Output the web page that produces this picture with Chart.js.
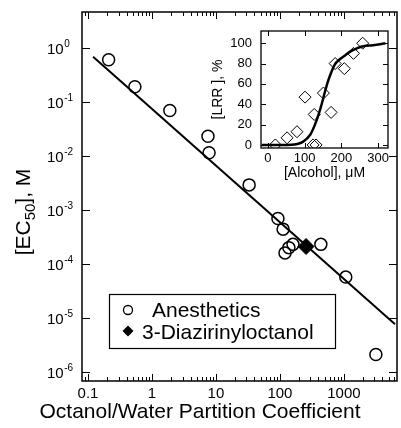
<!DOCTYPE html>
<html>
<head>
<meta charset="utf-8">
<script src="https://cdn.jsdelivr.net/npm/chart.js@4.4.0/dist/chart.umd.min.js"></script>
<style>
    html, body { margin: 0; padding: 0; background: #fff; overflow: hidden; }
    #wrap { position: relative; width: 401px; height: 428px; overflow: hidden; }
    #mainChart { position: absolute; left: 0; top: 0; }
    #insetChart { position: absolute; left: 200px; top: 20px; }
</style>
</head>
<body>
<div id="wrap">
    <!-- a few px wider than the page: Chart.js keeps room for point overflow on the right -->
    <canvas id="mainChart" width="406" height="428"></canvas>
    <canvas id="insetChart" width="200" height="170"></canvas>
</div>
<script>
// Main plot: anesthetics (open circles)
const partitionCoeff = [0.21, 0.54, 1.9, 7.5, 7.8, 33, 93, 112, 120, 138, 160, 436, 1070, 3160];
const ec50 = [0.6, 0.19, 0.069, 0.023, 0.0114, 0.0029, 6.9e-4, 4.4e-4, 1.6e-4, 2.0e-4, 2.3e-4, 2.3e-4, 5.7e-5, 2.1e-6];
// 3-Diazirinyloctanol (filled diamond)
const diazPartition = [256];
const diazEc50 = [2.1e-4];
// regression line end points
const fitPartition = [0.12, 6300];
const fitEc50 = [0.68, 7.6e-6];
// axis ticks
const xDecades = [0.1, 1, 10, 100, 1000];
const xDecadeLabels = ['0.1', '1', '10', '100', '1000'];
const yExponents = [0, -1, -2, -3, -4, -5, -6];

// Inset: LRR vs alcohol concentration
const alcohol = [20, 52, 79, 101, 126, 123, 131, 151, 172, 183, 208, 233, 258];
const lrr = [0, 7, 13, 47, 30, 0, 0, 51, 32, 80, 75, 90, 100];
const curveAlcohol = [-17, 0, 40, 80, 95, 115, 128, 138, 147, 155, 163, 172, 182, 195, 210, 225, 242, 260, 286, 305, 320];
const curveLrr = [0, 0, 0, 1, 3, 10, 20, 30, 41, 52, 62, 71, 79, 84, 88, 92, 95, 97, 98, 99, 100];
const insetXTicks = [0, 100, 200, 300];
const insetYTicks = [0, 20, 40, 60, 80, 100];

const FONT = '"Liberation Sans", Arial, Helvetica, sans-serif';

function toPoints(xs, ys) {
    return xs.map((v, i) => ({ x: v, y: ys[i] }));
}

// minor tick positions for the log x axis
function logMinorTicks(min, max) {
    const out = [];
    [0.01, 0.1, 1, 10, 100, 1000].forEach(d => {
        for (let m = 2; m <= 9; m++) {
            const v = m * d;
            if (v > min && v < max) out.push(v);
        }
    });
    return out;
}

const mainDecor = {
    id: 'mainDecor',
    afterDraw(chart) {
        const { ctx, chartArea: a, scales: { x, y } } = chart;
        ctx.save();
        ctx.strokeStyle = '#000';
        ctx.fillStyle = '#000';

        // frame
        ctx.lineWidth = 1.5;
        ctx.strokeRect(a.left, a.top, a.right - a.left, a.bottom - a.top);

        // inward ticks
        ctx.lineWidth = 1;
        ctx.beginPath();
        xDecades.forEach(v => {
            const px = Math.round(x.getPixelForValue(v)) + 0.5;
            ctx.moveTo(px, a.bottom); ctx.lineTo(px, a.bottom - 7);
            ctx.moveTo(px, a.top); ctx.lineTo(px, a.top + 7);
        });
        logMinorTicks(x.min, x.max).forEach(v => {
            const px = Math.round(x.getPixelForValue(v)) + 0.5;
            ctx.moveTo(px, a.bottom); ctx.lineTo(px, a.bottom - 4);
            ctx.moveTo(px, a.top); ctx.lineTo(px, a.top + 4);
        });
        yExponents.forEach(e => {
            const py = Math.round(y.getPixelForValue(Math.pow(10, e))) + 0.5;
            ctx.moveTo(a.left, py); ctx.lineTo(a.left + 8, py);
            ctx.moveTo(a.right, py); ctx.lineTo(a.right - 8, py);
        });
        ctx.stroke();

        // y tick labels 10^n
        ctx.textAlign = 'left';
        ctx.textBaseline = 'middle';
        yExponents.forEach(e => {
            const py = y.getPixelForValue(Math.pow(10, e));
            ctx.font = '15px ' + FONT;
            ctx.fillText('10', 47, py + 2);
            const w = ctx.measureText('10').width;
            ctx.font = '10px ' + FONT;
            ctx.fillText(e === 0 ? '0' : '-' + (-e), 47 + w + 0.5, py - 4);
        });

        // x title
        ctx.font = '21px ' + FONT;
        ctx.textAlign = 'center';
        ctx.textBaseline = 'alphabetic';
        ctx.fillText('Octanol/Water Partition Coefficient', 200, 418);

        // y title with subscript
        ctx.save();
        ctx.translate(30, 212);
        ctx.rotate(-Math.PI / 2);
        const parts = [['[EC', 21, 0], ['50', 15, 5], ['], M', 21, 0]];
        let total = 0;
        parts.forEach(p => { ctx.font = p[1] + 'px ' + FONT; total += ctx.measureText(p[0]).width; });
        let cx = -total / 2;
        ctx.textAlign = 'left';
        parts.forEach(p => {
            ctx.font = p[1] + 'px ' + FONT;
            ctx.fillText(p[0], cx, p[2]);
            cx += ctx.measureText(p[0]).width;
        });
        ctx.restore();

        // legend box
        ctx.lineWidth = 1.2;
        ctx.strokeRect(109.5, 294.5, 226, 54);
        ctx.lineWidth = 1.3;
        ctx.beginPath();
        ctx.arc(128, 310, 4.5, 0, Math.PI * 2);
        ctx.stroke();
        ctx.beginPath();
        ctx.moveTo(128, 325.5); ctx.lineTo(133.5, 331); ctx.lineTo(128, 336.5); ctx.lineTo(122.5, 331);
        ctx.closePath();
        ctx.fill();
        ctx.font = '21px ' + FONT;
        ctx.textAlign = 'left';
        ctx.textBaseline = 'middle';
        ctx.fillText('Anesthetics', 152, 311);
        ctx.fillText('3-Diazirinyloctanol', 142, 333);
        ctx.restore();
    }
};

new Chart(document.getElementById('mainChart'), {
    type: 'scatter',
    data: {
        datasets: [
            {
                label: 'Anesthetics',
                data: toPoints(partitionCoeff, ec50),
                pointStyle: 'circle',
                pointRadius: 6,
                borderColor: '#000',
                borderWidth: 1.5,
                backgroundColor: 'rgba(0,0,0,0)',
            },
            {
                label: '3-Diazirinyloctanol',
                data: toPoints(diazPartition, diazEc50),
                pointStyle: 'rectRot',
                pointRadius: 8,
                borderColor: '#000',
                borderWidth: 1,
                backgroundColor: '#000',
            },
            {
                label: 'fit',
                data: toPoints(fitPartition, fitEc50),
                showLine: true,
                pointRadius: 0,
                borderColor: '#000',
                borderWidth: 2,
            },
        ],
    },
    options: {
        responsive: false,
        animation: false,
        layout: { padding: { top: 12, right: 9, left: 0, bottom: 0 } },
        plugins: {
            legend: { display: false },
            tooltip: { enabled: false },
        },
        scales: {
            x: {
                type: 'logarithmic',
                min: 0.0805,
                max: 6760,
                afterFit: (s) => { s.height = 47; s.paddingLeft = 0; s.paddingRight = 0; },
                afterBuildTicks: (s) => { s.ticks = xDecades.map(v => ({ value: v })); },
                grid: { display: false, drawTicks: false },
                border: { display: false },
                ticks: {
                    color: '#000',
                    font: { size: 15, family: FONT },
                    padding: 4,
                    maxRotation: 0,
                    autoSkip: false,
                    callback: (v) => {
                        const i = xDecades.findIndex(d => Math.abs(d - v) / d < 1e-6);
                        return i >= 0 ? xDecadeLabels[i] : '';
                    },
                },
            },
            y: {
                type: 'logarithmic',
                min: 6.8e-7,
                max: 4.6,
                afterFit: (s) => { s.width = 82; s.paddingTop = 0; s.paddingBottom = 0; },
                grid: { display: false, drawTicks: false },
                border: { display: false },
                ticks: { display: false },
            },
        },
    },
    plugins: [mainDecor],
});

const insetDecor = {
    id: 'insetDecor',
    afterDraw(chart) {
        const { ctx, chartArea: a, scales: { x, y } } = chart;
        ctx.save();
        ctx.strokeStyle = '#000';
        ctx.lineWidth = 1.3;
        ctx.strokeRect(a.left, a.top, a.right - a.left, a.bottom - a.top);
        ctx.lineWidth = 1;
        ctx.beginPath();
        insetXTicks.forEach(v => {
            const px = Math.round(x.getPixelForValue(v)) + 0.5;
            ctx.moveTo(px, a.bottom); ctx.lineTo(px, a.bottom - 5);
            ctx.moveTo(px, a.top); ctx.lineTo(px, a.top + 5);
        });
        insetYTicks.forEach(v => {
            const py = Math.round(y.getPixelForValue(v)) + 0.5;
            ctx.moveTo(a.left, py); ctx.lineTo(a.left + 5, py);
            ctx.moveTo(a.right, py); ctx.lineTo(a.right - 5, py);
        });
        ctx.stroke();
        ctx.restore();
    }
};

new Chart(document.getElementById('insetChart'), {
    type: 'scatter',
    data: {
        datasets: [
            {
                data: toPoints(alcohol, lrr),
                pointStyle: 'rectRot',
                pointRadius: 6,
                borderColor: '#000',
                borderWidth: 1,
                backgroundColor: 'rgba(0,0,0,0)',
            },
            {
                data: toPoints(curveAlcohol, curveLrr),
                showLine: true,
                pointRadius: 0,
                borderColor: '#000',
                borderWidth: 2.5,
                cubicInterpolationMode: 'monotone',
            },
        ],
    },
    options: {
        responsive: false,
        animation: false,
        layout: { padding: { top: 11, right: 12, left: 0, bottom: 0 } },
        plugins: {
            legend: { display: false },
            tooltip: { enabled: false },
        },
        scales: {
            x: {
                type: 'linear',
                min: -19,
                max: 327,
                afterFit: (s) => { s.height = 42; s.paddingLeft = 0; s.paddingRight = 0; },
                afterBuildTicks: (s) => { s.ticks = insetXTicks.map(v => ({ value: v })); },
                grid: { display: false, drawTicks: false },
                border: { display: false },
                ticks: { color: '#000', font: { size: 13, family: FONT }, padding: 3, maxRotation: 0, autoSkip: false },
                title: {
                    display: true,
                    text: '[Alcohol], μM',
                    color: '#000',
                    font: { size: 14, family: FONT },
                    padding: { top: 0, bottom: 8 },
                },
            },
            y: {
                type: 'linear',
                min: -3,
                max: 112,
                afterFit: (s) => { s.width = 61; s.paddingTop = 0; s.paddingBottom = 0; },
                afterBuildTicks: (s) => { s.ticks = insetYTicks.map(v => ({ value: v })); },
                grid: { display: false, drawTicks: false },
                border: { display: false },
                ticks: { color: '#000', font: { size: 13, family: FONT }, padding: 9, autoSkip: false },
                title: {
                    display: true,
                    text: '[LRR ], %',
                    color: '#000',
                    font: { size: 14, family: FONT },
                    padding: { top: 10, bottom: 0 },
                },
            },
        },
    },
    plugins: [insetDecor],
});
</script>
</body>
</html>
